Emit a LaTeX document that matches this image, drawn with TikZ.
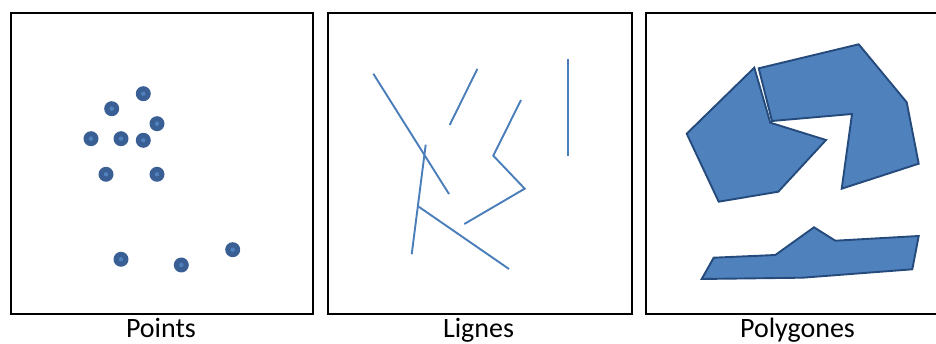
\documentclass[tikz,border=0pt]{standalone}
\usepackage{fontspec}
\setmainfont{Carlito}
\definecolor{ptfill}{HTML}{4F81BD}
\definecolor{ptline}{HTML}{3A5F94}
\definecolor{lnblue}{HTML}{4A7EBB}
\definecolor{pgline}{HTML}{254A7C}
\begin{document}
\begin{tikzpicture}[x=1pt,y=-1pt,
  frame/.style={draw=black,line width=2pt},
  pt/.style={circle,fill=ptline,minimum size=15pt,inner sep=0pt,
    path picture={\fill[ptfill] (path picture bounding box.center) circle (2.2pt);}},
  ln/.style={draw=lnblue,line width=1.9pt},
  pg/.style={fill=ptfill,draw=pgline,line width=1.9pt,line join=miter},
  lbl/.style={font=\fontsize{28}{30}\selectfont,anchor=base,inner sep=0pt}]
\useasboundingbox (0,0) rectangle (936,344);
\begin{scope}
\clip (0,0) rectangle (936,344);
% frames
\draw[frame] (11,13) rectangle (313,314);
\draw[frame] (328,13) rectangle (632,314);
\draw[frame] (646,13) rectangle (960,314);
% points
\node[pt] (p1) at (143.3,93.7) {};
\node[pt] (p2) at (111.7,108.7) {};
\node[pt] (p3) at (157,123.7) {};
\node[pt] (p4) at (91,138.7) {};
\node[pt] (p5) at (121,138.7) {};
\node[pt] (p6) at (143.3,140.3) {};
\node[pt] (p7) at (106,174.3) {};
\node[pt] (p8) at (157,174.3) {};
\node[pt] (p9) at (121,259.3) {};
\node[pt] (p10) at (181.3,265) {};
\node[pt] (p11) at (232.7,249.7) {};
% lines
\draw[ln] (373.3,73.7) -- (449,194);
\draw[ln] (477.3,69) -- (449.7,125);
\draw[ln,line join=miter] (521,100) -- (493.3,155.7) -- (524.7,188.7) -- (464.3,224);
\draw[ln] (567.7,58.7) -- (567.7,156);
\draw[ln] (425.7,144.7) -- (411.7,254.3);
\draw[ln] (418.7,206.7) -- (509,269);
% polygons
\draw[pg] (754.3,67.7) -- (770.3,122.7) -- (826,140) -- (778.3,191.7) -- (718.7,201.7) -- (686.7,133.7) -- cycle;
\draw[pg] (758.7,68.3) -- (858.7,44.3) -- (906.7,102.3) -- (918.7,163.7) -- (841.7,188.7) -- (852,114) -- (772,121) -- cycle;
\draw[pg] (713.7,257.7) -- (775.3,255) -- (814,227.3) -- (835.3,240.7) -- (918.7,236) -- (912.3,269.3) -- (802.7,277.7) -- (701.7,279) -- cycle;
\end{scope}
% labels
\node[lbl] (t1) at (161,337.5) {Points};
\node[lbl] (t2) at (478.5,337.5) {Lignes};
\node[lbl] (t3) at (797.5,337.5) {Polygones};
\end{tikzpicture}
\end{document}
